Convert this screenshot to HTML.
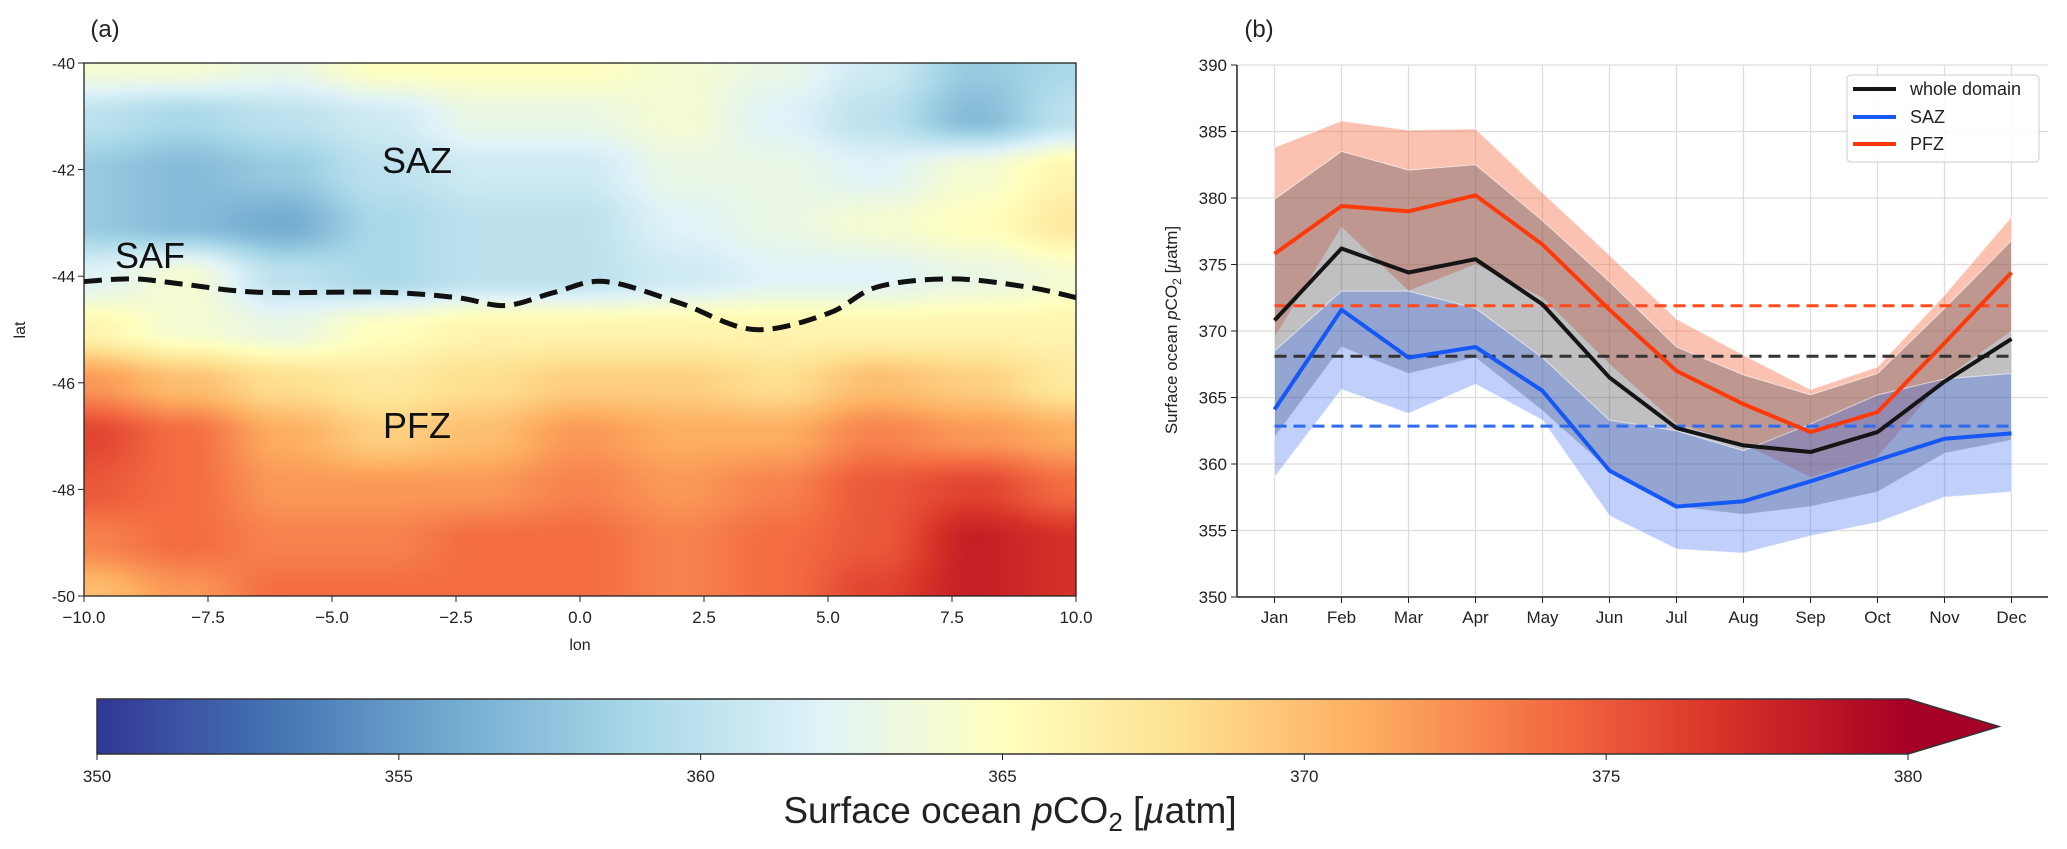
<!DOCTYPE html>
<html><head><meta charset="utf-8">
<style>
body{margin:0;background:#fff;width:2067px;height:849px;overflow:hidden;font-family:"Liberation Sans",sans-serif;}
#root{position:relative;width:2067px;height:849px;}
.abs{position:absolute;}
</style></head>
<body>
<div id="root">
<canvas id="map" class="abs" style="left:84px;top:63px;width:992px;height:533px" width="248" height="133"></canvas>
<svg id="svg" class="abs" style="left:0;top:0" width="2067" height="849"></svg>
</div>
<script>
// ===== Panel (a) map data: rows lat -40..-50, cols lon -10..10 step 2 =====
const mapLats=[-40,-41,-42,-43,-44,-45,-46,-47,-48,-49,-50];
const mapLons=[-10,-8,-6,-4,-2,0,2,4,6,8,10];
const mapGrid=[
[364,364,363,365,365,365,364,363,361,358,359],
[360,359,360,361,363,363,364,362,360,357,360],
[358,357,358,360,361,361,363,363,362,364,366],
[358,357,356,359,360,360,362,363,364,365,367],
[362,364,360,359,360,360,361,362,362,363,364],
[366,364,363,365,366,366,366,366,366,366,366],
[372,370,368,367,368,369,369,368,370,369,367],
[376,374,371,369,370,372,371,371,373,372,371],
[375,374,372,372,372,373,372,373,375,376,374],
[373,374,373,373,374,374,373,374,375,378,377],
[370,372,374,374,374,374,373,374,376,378,377]];
const frontLon=[-10,-9,-8,-6.5,-4,-2.5,-1.5,-0.5,0.5,2,3.5,5,6,7.5,9,10];
const frontLat=[-44.1,-44.05,-44.15,-44.3,-44.3,-44.4,-44.55,-44.3,-44.1,-44.5,-45.0,-44.7,-44.2,-44.05,-44.2,-44.4];
// ===== Panel (b) data =====
const months=["Jan","Feb","Mar","Apr","May","Jun","Jul","Aug","Sep","Oct","Nov","Dec"];
const wholeMean=[370.8,376.2,374.4,375.4,372,366.5,362.7,361.4,360.9,362.4,366.2,369.4];
const sazMean=[364.1,371.6,368,368.8,365.5,359.5,356.8,357.2,358.7,360.3,361.9,362.3];
const pfzMean=[375.8,379.4,379,380.2,376.5,371.6,367,364.5,362.4,363.9,369.1,374.4];
const pfzUpper=[383.8,385.8,385.1,385.2,380.4,375.7,370.9,368.2,365.6,367.3,372.7,378.6];
const pfzLower=[369.5,377.8,373,375,372.5,367.5,363,361.5,359,360.5,366.4,370];
const wholeUpper=[379.9,383.5,382.1,382.5,378.3,373.7,368.8,366.7,365.2,366.8,371.7,376.8];
const wholeLower=[362,368.8,366.8,368,364,359.5,356.8,356.2,356.8,357.9,360.8,361.8];
const sazUpper=[368.5,373,373,371.7,368,363.3,362.5,361,363,365.2,366.4,366.8];
const sazLower=[359,365.6,363.8,366,363.3,356.1,353.6,353.3,354.6,355.6,357.5,357.9];
const annualMeans=[371.9,368.1,362.85];
const yTicks=[350,355,360,365,370,375,380,385,390];
const lonTicks=[-10,-7.5,-5,-2.5,0,2.5,5,7.5,10];
const latTicks=[-40,-42,-44,-46,-48,-50];
const cbTicks=[350,355,360,365,370,375,380];

const cmapStops=["#313695","#4575b4","#74add1","#abd9e9","#e0f3f8","#ffffbf","#fee090","#fdae61","#f46d43","#d73027","#a50026"];
function hex(h){return [parseInt(h.slice(1,3),16),parseInt(h.slice(3,5),16),parseInt(h.slice(5,7),16)];}
const cs=cmapStops.map(hex);
function cmap(v){let t=(v-350)/30;t=Math.max(0,Math.min(1,t));const f=t*10;const i=Math.min(9,Math.floor(f));const r=f-i;
 return cs[i].map((c,k)=>Math.round(c+(cs[i+1][k]-c)*r));}

(function(){
 const cv=document.getElementById('map');const ctx=cv.getContext('2d');
 const W=cv.width,H=cv.height;const img=ctx.createImageData(W,H);
 const nr=mapGrid.length,nc=mapGrid[0].length;
 function sm(t){return t*t*(3-2*t);}
 for(let y=0;y<H;y++)for(let x=0;x<W;x++){
  const fy=y/(H-1)*(nr-1),fx=x/(W-1)*(nc-1);
  const r0=Math.min(nr-2,Math.floor(fy)),c0=Math.min(nc-2,Math.floor(fx));
  const ty=sm(fy-r0),tx=sm(fx-c0);
  const v=mapGrid[r0][c0]*(1-tx)*(1-ty)+mapGrid[r0][c0+1]*tx*(1-ty)+mapGrid[r0+1][c0]*(1-tx)*ty+mapGrid[r0+1][c0+1]*tx*ty;
  const c=cmap(v);const o=(y*W+x)*4;img.data[o]=c[0];img.data[o+1]=c[1];img.data[o+2]=c[2];img.data[o+3]=255;}
 ctx.putImageData(img,0,0);
})();

const NS="http://www.w3.org/2000/svg";
const svg=document.getElementById('svg');
function el(tag,attrs,parent){const e=document.createElementNS(NS,tag);for(const k in attrs)e.setAttribute(k,attrs[k]);(parent||svg).appendChild(e);return e;}
function txt(s,x,y,size,anchor,parent){const t=el('text',{x:x,y:y,'font-size':size,'text-anchor':anchor||'middle','font-family':'Liberation Sans, sans-serif',fill:'#222'},parent);t.textContent=s;return t;}

const ax={l:84,r:1076,t:63,b:596};
const lonX=v=>ax.l+(v+10)/20*(ax.r-ax.l);
const latY=v=>ax.t+(-40-v)/10*(ax.b-ax.t);
const ga=el('g',{});


el('rect',{x:ax.l,y:ax.t,width:ax.r-ax.l,height:ax.b-ax.t,fill:'none',stroke:'#222','stroke-width':1.3},ga);
lonTicks.forEach(v=>{const x=lonX(v);el('line',{x1:x,x2:x,y1:ax.b,y2:ax.b+6,stroke:'#222'},ga);
 const t=txt(v.toFixed(1).replace('-','\u2212'),x,623,17,'middle',ga);});
latTicks.forEach(v=>{const y=latY(v);el('line',{x1:ax.l-6,x2:ax.l,y1:y,y2:y,stroke:'#222'},ga);
 const t=txt(String(v),ax.l-9,y+6,16,'end',ga);});
let t1=txt('lon',580,650,16,'middle',ga);
let t2=txt('lat',0,0,16,'middle',ga);t2.setAttribute('transform','translate(25,330) rotate(-90)');
let t3=txt('(a)',105,37,24,'middle',ga);
(function(){const P=frontLon.map((v,i)=>[lonX(v),latY(frontLat[i])]);let d='M'+P[0][0]+','+P[0][1];
 for(let i=0;i<P.length-1;i++){const p0=P[Math.max(0,i-1)],p1=P[i],p2=P[i+1],p3=P[Math.min(P.length-1,i+2)];
  d+=' C'+(p1[0]+(p2[0]-p0[0])/6)+','+(p1[1]+(p2[1]-p0[1])/6)+' '+(p2[0]-(p3[0]-p1[0])/6)+','+(p2[1]-(p3[1]-p1[1])/6)+' '+p2[0]+','+p2[1];}
 const p=el('path',{d:d,fill:'none',stroke:'#111','stroke-width':5,'stroke-dasharray':'18 9'},ga);
 })();
[['SAZ',417,173,'saz-label'],['SAF',150,268,'saf-label'],['PFZ',417,438,'pfz-label']].forEach(a=>{const t=txt(a[0],a[1],a[2],36,'middle',ga);t.setAttribute('fill','#111');});

const bx={l:1237,r:2048,t:65,b:597};
const mX=i=>1274.5+i*(2011.5-1274.5)/11;
const vY=v=>bx.b-(v-350)/40*(bx.b-bx.t);
const gb=el('g',{});


yTicks.forEach(v=>{const y=vY(v);el('line',{x1:bx.l,x2:bx.r,y1:y,y2:y,stroke:'#dcdcdc','stroke-width':1.3},gb);
 el('line',{x1:bx.l-6,x2:bx.l,y1:y,y2:y,stroke:'#222'},gb);
 const t=txt(String(v),bx.l-10,y+6,17,'end',gb);});
months.forEach((m,i)=>{const x=mX(i);el('line',{x1:x,x2:x,y1:bx.t,y2:bx.b,stroke:'#dcdcdc','stroke-width':1.3},gb);
 el('line',{x1:x,x2:x,y1:bx.b,y2:bx.b+6,stroke:'#222'},gb);
 const t=txt(m,x,623,17,'middle',gb);});
function band(u,l,fill,name){let d='M';u.forEach((v,i)=>{d+=(i?' L':'')+mX(i)+','+vY(v);});for(let i=l.length-1;i>=0;i--)d+=' L'+mX(i)+','+vY(l[i]);d+='Z';
 const p=el('path',{d:d,fill:fill,stroke:'rgba(255,255,255,0.6)','stroke-width':1},gb);}
band(pfzUpper,pfzLower,'rgba(248,110,70,0.42)','pfz-band');
band(wholeUpper,wholeLower,'rgba(70,70,80,0.34)','whole-domain-band');
band(sazUpper,sazLower,'rgba(60,110,240,0.32)','saz-band');
const meanCols=['#ff4a1e','#333','#2f6bf0'];
const meanNames=['pfz-annual-mean','whole-annual-mean','saz-annual-mean'];
annualMeans.forEach((v,i)=>{const y=vY(v);const l=el('line',{x1:mX(0),x2:mX(11),y1:y,y2:y,stroke:meanCols[i],'stroke-width':3,'stroke-dasharray':'12 7'},gb);
 });
function line(vals,col,name){const p=el('polyline',{points:vals.map((v,i)=>mX(i)+','+vY(v)).join(' '),fill:'none',stroke:col,'stroke-width':4,'stroke-linejoin':'round'},gb);
 }
line(wholeMean,'#151515','whole-domain-line');
line(sazMean,'#1558f5','saz-line');
line(pfzMean,'#ff3a0a','pfz-line');
el('line',{x1:bx.l,x2:bx.l,y1:bx.t,y2:bx.b,stroke:'#222','stroke-width':1.5},gb);
el('line',{x1:bx.l,x2:bx.r,y1:bx.b,y2:bx.b,stroke:'#222','stroke-width':1.5},gb);
(function(){const t=el('text',{transform:'translate(1177,330) rotate(-90)','font-size':17,'text-anchor':'middle','font-family':'Liberation Sans, sans-serif',fill:'#222'},gb);
 t.innerHTML='Surface ocean <tspan font-style="italic">p</tspan>CO<tspan font-size="12" dy="4">2</tspan><tspan dy="-4"> [</tspan><tspan font-style="italic">µ</tspan>atm]';
 })();
let tb=txt('(b)',1259,37,24,'middle',gb);
const lg=el('g',{},gb);


el('rect',{x:1847,y:75,width:192,height:87,rx:4,fill:'#fff','fill-opacity':0.85,stroke:'#ccc'},lg);
[['whole domain','#151515',89],['SAZ','#1558f5',117],['PFZ','#ff3a0a',144]].forEach(a=>{
 const e=el('line',{x1:1853,x2:1896,y1:a[2],y2:a[2],stroke:a[1],'stroke-width':4},lg);
 const t=txt(a[0],1910,a[2]+6,18,'start',lg);});

const cb={l:97,r:1908,t:699,b:754,tip:1999};
const cbX=v=>cb.l+(v-350)/30*(cb.r-cb.l);
const gc=el('g',{});


const defs=el('defs',{});
const lgd=el('linearGradient',{id:'cbg',x1:0,x2:1,y1:0,y2:0},defs);
cmapStops.forEach((c,i)=>el('stop',{offset:(i*10)+'%','stop-color':c},lgd));
el('rect',{x:cb.l,y:cb.t,width:cb.r-cb.l,height:cb.b-cb.t,fill:'url(#cbg)'},gc);
el('polygon',{points:cb.r+','+cb.t+' '+cb.tip+','+((cb.t+cb.b)/2)+' '+cb.r+','+cb.b,fill:'#a50026'},gc);
el('polygon',{points:cb.l+','+cb.t+' '+cb.r+','+cb.t+' '+cb.tip+','+((cb.t+cb.b)/2)+' '+cb.r+','+cb.b+' '+cb.l+','+cb.b,fill:'none',stroke:'#333','stroke-width':1.5},gc);
cbTicks.forEach(v=>{const x=cbX(v);el('line',{x1:x,x2:x,y1:cb.b,y2:cb.b+6,stroke:'#222'},gc);
 const t=txt(String(v),x,782,17,'middle',gc);});
(function(){const t=el('text',{x:1010,y:823,'font-size':37,'text-anchor':'middle','font-family':'Liberation Sans, sans-serif',fill:'#222'},gc);
 t.innerHTML='Surface ocean <tspan font-style="italic">p</tspan>CO<tspan font-size="26" dy="8">2</tspan><tspan dy="-8"> [</tspan><tspan font-style="italic">µ</tspan>atm]';
 })();
</script>
</body></html>
